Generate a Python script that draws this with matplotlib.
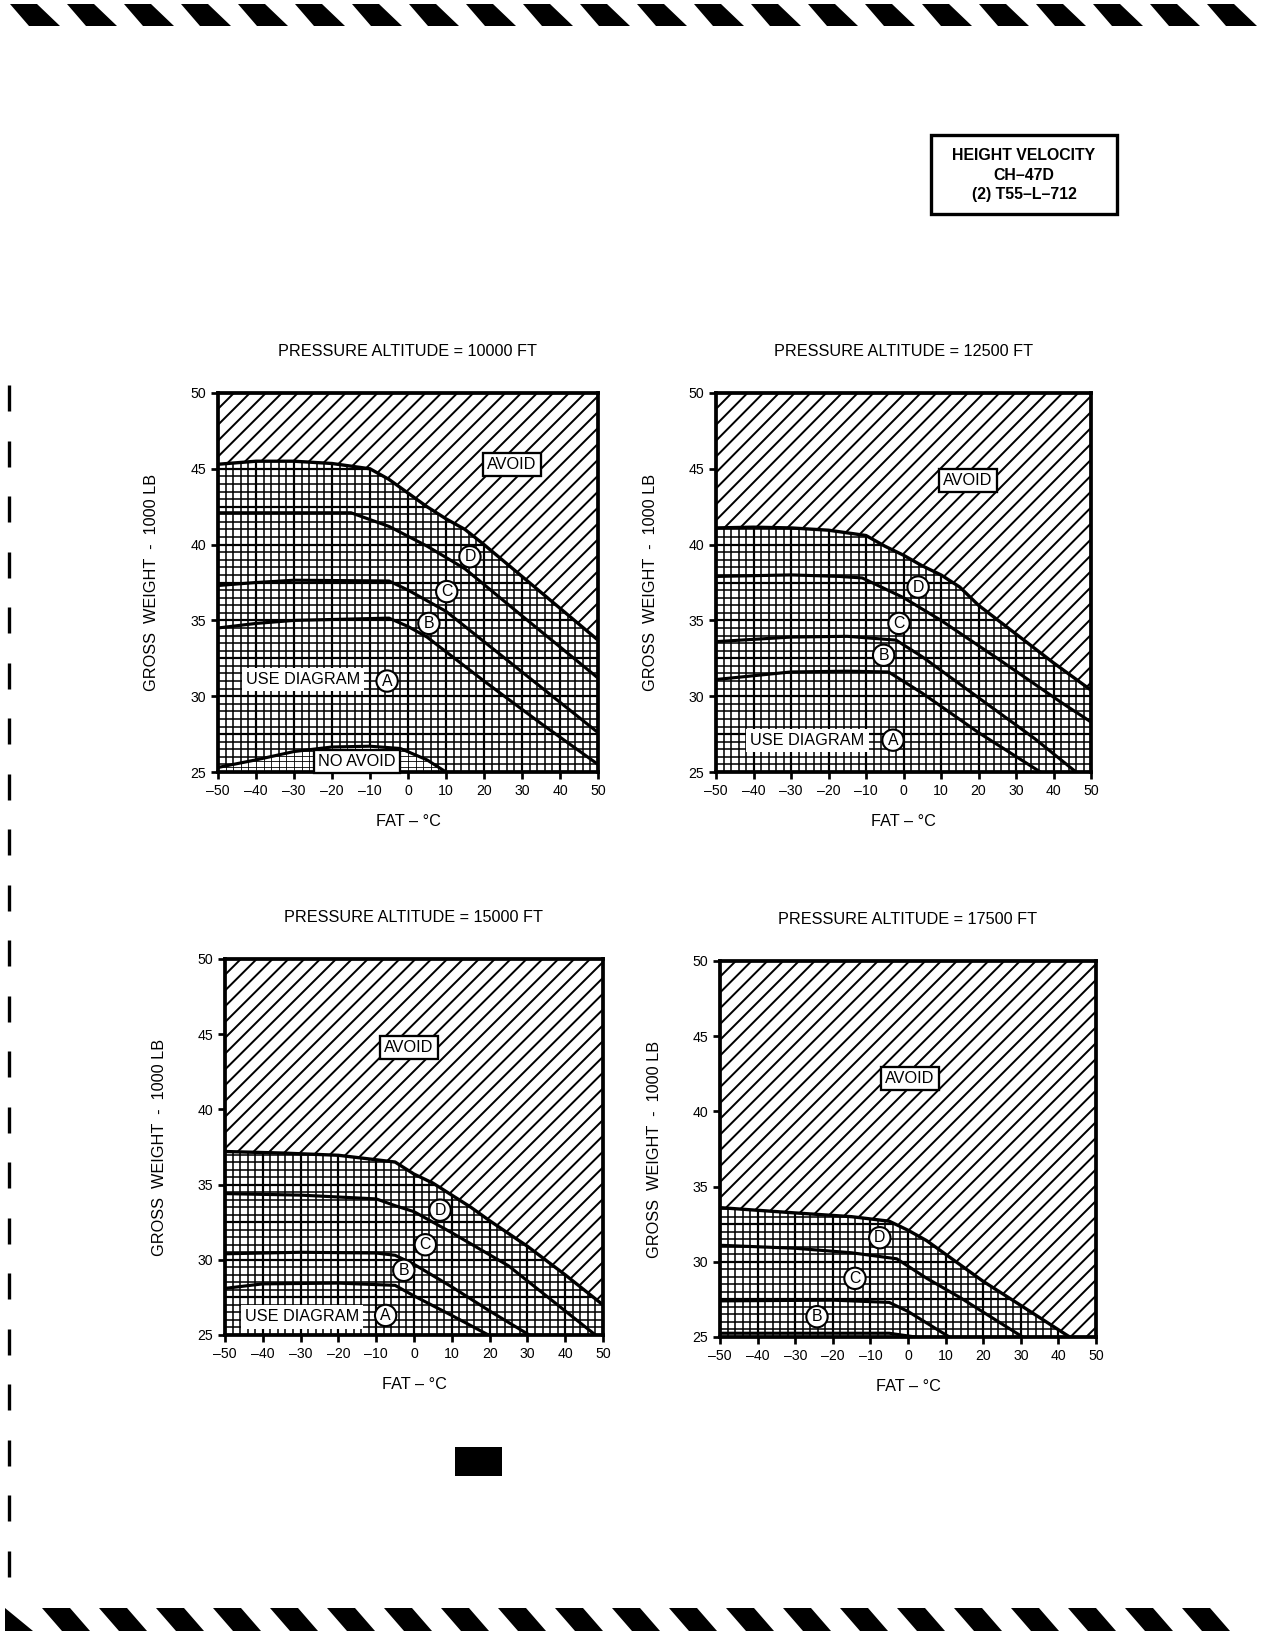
import numpy as np
import matplotlib
matplotlib.use("Agg")
import matplotlib.pyplot as plt
from matplotlib.patches import Polygon, Rectangle
from matplotlib.collections import LineCollection

plt.rcParams["font.family"] = ["Liberation Sans", "DejaVu Sans"]

# ---- chart data ----
titles = [
    "PRESSURE ALTITUDE = 10000 FT",
    "PRESSURE ALTITUDE = 12500 FT",
    "PRESSURE ALTITUDE = 15000 FT",
    "PRESSURE ALTITUDE = 17500 FT",
]
x_ticks = [-50, -40, -30, -20, -10, 0, 10, 20, 30, 40, 50]
x_tick_labels = ["–50", "–40", "–30", "–20", "–10", "0", "10", "20", "30", "40", "50"]
y_ticks = [25, 30, 35, 40, 45, 50]

# 10000 ft
p1_avoid_x = [-50, -40, -30, -20, -10, -5, 0, 5, 10, 15, 20, 30, 40, 50]
p1_avoid_y = [45.3, 45.5, 45.5, 45.35, 45.0, 44.3, 43.4, 42.5, 41.7, 41.0, 40.0, 37.9, 35.8, 33.7]
p1_dc_x = [-50, -15, -5, 5, 15, 30, 50]
p1_dc_y = [42.1, 42.1, 41.2, 39.9, 38.4, 35.3, 31.2]
p1_cb_x = [-50, -40, -30, -5, 0, 10, 20, 35, 50]
p1_cb_y = [37.3, 37.5, 37.65, 37.6, 37.0, 35.6, 33.6, 30.6, 27.6]
p1_ba_x = [-50, -40, -30, -5, 0, 5, 20, 35, 50]
p1_ba_y = [34.5, 34.8, 35.0, 35.15, 34.6, 33.9, 31.0, 28.2, 25.5]
p1_noavoid_x = [-50, -40, -30, -20, -10, -2, 5, 10]
p1_noavoid_y = [25.3, 25.8, 26.35, 26.65, 26.7, 26.55, 25.8, 25.0]

# 12500 ft
p2_avoid_x = [-50, -40, -30, -20, -10, -5, 0, 5, 10, 15, 20, 30, 40, 50]
p2_avoid_y = [41.1, 41.15, 41.1, 40.95, 40.6, 39.9, 39.3, 38.6, 38.0, 37.2, 36.0, 34.1, 32.2, 30.4]
p2_dc_x = [-50, -30, -17, -11, 0, 10, 25, 42, 50]
p2_dc_y = [37.9, 38.0, 37.9, 37.8, 36.5, 35.0, 32.5, 29.6, 28.3]
p2_cb_x = [-50, -30, -15, -2, 5, 20, 35, 46]
p2_cb_y = [33.6, 33.9, 33.95, 33.7, 32.6, 29.9, 27.2, 25.0]
p2_ba_x = [-50, -30, -15, -4, 5, 20, 36.5]
p2_ba_y = [31.1, 31.6, 31.65, 31.6, 30.2, 27.6, 25.0]

# 15000 ft
p3_avoid_x = [-50, -35, -20, -5, 0, 5, 10, 15, 20, 30, 40, 50]
p3_avoid_y = [37.2, 37.1, 36.95, 36.5, 35.7, 35.1, 34.3, 33.5, 32.6, 30.9, 29.0, 27.0]
p3_dc_x = [-50, -30, -10, -5, 0, 10, 25, 48]
p3_dc_y = [34.4, 34.3, 34.05, 33.6, 33.2, 31.8, 29.6, 25.0]
p3_cb_x = [-50, -30, -10, -5, 0, 10, 20, 30.5]
p3_cb_y = [30.4, 30.5, 30.45, 30.3, 29.7, 28.2, 26.6, 25.0]
p3_ba_x = [-50, -40, -20, -5, 0, 10, 19.7]
p3_ba_y = [28.1, 28.4, 28.45, 28.3, 27.6, 26.3, 25.0]

# 17500 ft
p4_avoid_x = [-50, -30, -15, -5, 0, 5, 10, 20, 30, 43]
p4_avoid_y = [33.6, 33.25, 33.0, 32.7, 32.1, 31.4, 30.5, 28.7, 27.1, 25.0]
p4_dc_x = [-50, -30, -15, -3, 5, 14, 30.5]
p4_dc_y = [31.1, 30.9, 30.6, 30.2, 28.9, 27.6, 25.0]
p4_cb_x = [-50, -20, -5, 0, 11]
p4_cb_y = [27.4, 27.45, 27.3, 26.7, 25.0]
p4_ba_x = [-50, -5, 2]
p4_ba_y = [25.25, 25.25, 25.0]

# annotation labels per panel
p1_boxes = [("AVOID", 27.4, 45.3, True), ("USE DIAGRAM", -27.6, 31.1, False),
            ("NO AVOID", -13.4, 25.7, True)]
p1_circles = [("A", -5.5, 31.0), ("B", 5.5, 34.8), ("C", 10.2, 36.9), ("D", 16.3, 39.2)]
p2_boxes = [("AVOID", 17.2, 44.2, True), ("USE DIAGRAM", -25.6, 27.1, False)]
p2_circles = [("A", -2.8, 27.1), ("B", -5.3, 32.7), ("C", -1.2, 34.8), ("D", 3.9, 37.2)]
p3_boxes = [("AVOID", -1.3, 44.1, True), ("USE DIAGRAM", -29.7, 26.2, False)]
p3_circles = [("A", -7.5, 26.3), ("B", -2.7, 29.3), ("C", 3.0, 31.0), ("D", 6.9, 33.3)]
p4_boxes = [("AVOID", 0.5, 42.2, True)]
p4_circles = [("B", -24.2, 26.35), ("C", -14.1, 28.9), ("D", -7.5, 31.6)]

panels = [
    dict(avoid=(p1_avoid_x, p1_avoid_y),
         lines=[(p1_dc_x, p1_dc_y), (p1_cb_x, p1_cb_y), (p1_ba_x, p1_ba_y)],
         noavoid=(p1_noavoid_x, p1_noavoid_y), boxes=p1_boxes, circles=p1_circles),
    dict(avoid=(p2_avoid_x, p2_avoid_y),
         lines=[(p2_dc_x, p2_dc_y), (p2_cb_x, p2_cb_y), (p2_ba_x, p2_ba_y)],
         noavoid=None, boxes=p2_boxes, circles=p2_circles),
    dict(avoid=(p3_avoid_x, p3_avoid_y),
         lines=[(p3_dc_x, p3_dc_y), (p3_cb_x, p3_cb_y), (p3_ba_x, p3_ba_y)],
         noavoid=None, boxes=p3_boxes, circles=p3_circles),
    dict(avoid=(p4_avoid_x, p4_avoid_y),
         lines=[(p4_dc_x, p4_dc_y), (p4_cb_x, p4_cb_y), (p4_ba_x, p4_ba_y)],
         noavoid=None, boxes=p4_boxes, circles=p4_circles),
]

# axes rectangles in page pixels: left, top, right, bottom
axes_px = [(218, 393, 598, 772), (716, 393, 1091, 772),
           (225, 959, 603, 1335), (720, 961, 1096, 1337)]

W, H = 1275, 1650
fig = plt.figure(figsize=(8.5, 11), dpi=150)

# page decorations in pixel coordinates
page = fig.add_axes([0, 0, 1, 1])
page.set_xlim(0, W)
page.set_ylim(H, 0)
page.axis("off")

for x0 in np.arange(10, 1240, 57):
    page.add_patch(Polygon([(x0, 4), (x0 + 27, 4), (x0 + 50, 26), (x0 + 19, 26)],
                           closed=True, fc="black", ec="none"))
page.add_patch(Polygon([(5, 1608), (5, 1631), (33, 1631)], closed=True, fc="black", ec="none"))
for x0 in np.arange(42, 1230, 57):
    page.add_patch(Polygon([(x0, 1608), (x0 + 28, 1608), (x0 + 48, 1631), (x0 + 20, 1631)],
                           closed=True, fc="black", ec="none"))
for y0 in np.arange(385, 1570, 55.5):
    page.plot([9, 9], [y0, y0 + 26], color="black", lw=1.6, solid_capstyle="butt")

page.add_patch(Rectangle((931, 135), 186, 79, fc="none", ec="black", lw=1.6))
for txt, yy in [("HEIGHT VELOCITY", 156), ("CH–47D", 175), ("(2) T55–L–712", 194)]:
    page.text(1024, yy, txt, ha="center", va="center", fontsize=7.6, fontweight="bold")
page.add_patch(Rectangle((455, 1447), 47, 29, fc="black", ec="none"))


def draw_panel(ax, p, title):
    ax.set_xlim(-50, 50)
    ax.set_ylim(25, 50)
    ax_x, ax_y = p["avoid"]

    # avoid region polygon (above the boundary)
    avoid_pts = list(zip(ax_x, ax_y))
    if ax_x[-1] < 50:
        avoid_pts.append((50, 25))
    avoid_pts += [(50, 50), (-50, 50)]
    avoid_poly = Polygon(avoid_pts, closed=True, transform=ax.transData)

    # usable region polygon (below the boundary)
    use_pts = list(zip(ax_x, ax_y)) + [(ax_x[-1], 25), (-50, 25)]
    use_poly = Polygon(use_pts, closed=True, transform=ax.transData)

    # diagonal hatch for AVOID
    segs = [[(c, 0), (c + 1, 1)] for c in np.arange(-1.0, 1.0, 0.042)]
    hatch = LineCollection(segs, colors="black", linewidths=0.95,
                           transform=ax.transAxes, zorder=1)
    ax.add_collection(hatch)
    hatch.set_clip_path(avoid_poly)

    # square grid for the chart region
    for coll in [
        ax.vlines(np.arange(-50, 51, 2), 25, 50, colors="black", lw=0.75, zorder=1),
        ax.hlines(np.arange(25, 50.01, 0.5), -50, 50, colors="black", lw=0.75, zorder=1),
        ax.vlines(np.arange(-50, 51, 10), 25, 50, colors="black", lw=1.05, zorder=1),
        ax.hlines(np.arange(25, 50.01, 2.5), -50, 50, colors="black", lw=1.05, zorder=1),
    ]:
        coll.set_clip_path(use_poly)

    if p["noavoid"] is not None:
        nx, ny = p["noavoid"]
        na_poly = Polygon(list(zip(nx, ny)) + [(-50, 25)], closed=True,
                          fc="white", ec="none", zorder=2)
        ax.add_patch(na_poly)
        for coll in [
            ax.vlines(np.arange(-50, 51, 2), 25, 28, colors="black", lw=0.4, zorder=2.1),
            ax.hlines(np.arange(25, 28, 0.35), -50, 50, colors="black", lw=0.4, zorder=2.1),
        ]:
            coll.set_clip_path(na_poly)
        ax.plot(nx, ny, color="black", lw=1.5, zorder=3)

    ax.plot(ax_x, ax_y, color="black", lw=1.6, zorder=3)
    for lx, ly in p["lines"]:
        ax.plot(lx, ly, color="black", lw=1.5, zorder=3)

    for txt, bx, by, edge in p["boxes"]:
        ax.text(bx, by, txt, ha="center", va="center", fontsize=7.8, zorder=6,
                bbox=dict(boxstyle="square,pad=0.25", fc="white",
                          ec="black" if edge else "none", lw=1.1))
    for txt, cx, cy in p["circles"]:
        ax.text(cx, cy, txt, ha="center", va="center", fontsize=7.6, zorder=6,
                bbox=dict(boxstyle="circle,pad=0.2", fc="white", ec="black", lw=1.0))

    ax.set_xticks(x_ticks)
    ax.set_xticklabels(x_tick_labels)
    ax.set_yticks(y_ticks)
    ax.tick_params(direction="out", length=3.2, width=1.3, labelsize=6.8, pad=2.5)
    for sp in ax.spines.values():
        sp.set_linewidth(1.8)
        sp.set_zorder(5)

    ax.text(0.5, 1 + 42 / 379, title, transform=ax.transAxes, ha="center",
            va="center", fontsize=7.8)
    ax.text(0.5, -50 / 379, "FAT – °C", transform=ax.transAxes, ha="center",
            va="center", fontsize=7.8)
    ax.text(-66 / 378, 0.5, "GROSS  WEIGHT  -  1000 LB", transform=ax.transAxes,
            rotation=90, ha="center", va="center", fontsize=7.8)


for (l, t, r, b), p, title in zip(axes_px, panels, titles):
    ax = fig.add_axes([l / W, 1 - b / H, (r - l) / W, (b - t) / H])
    draw_panel(ax, p, title)

fig.savefig("out.png", dpi=150, facecolor="white")
